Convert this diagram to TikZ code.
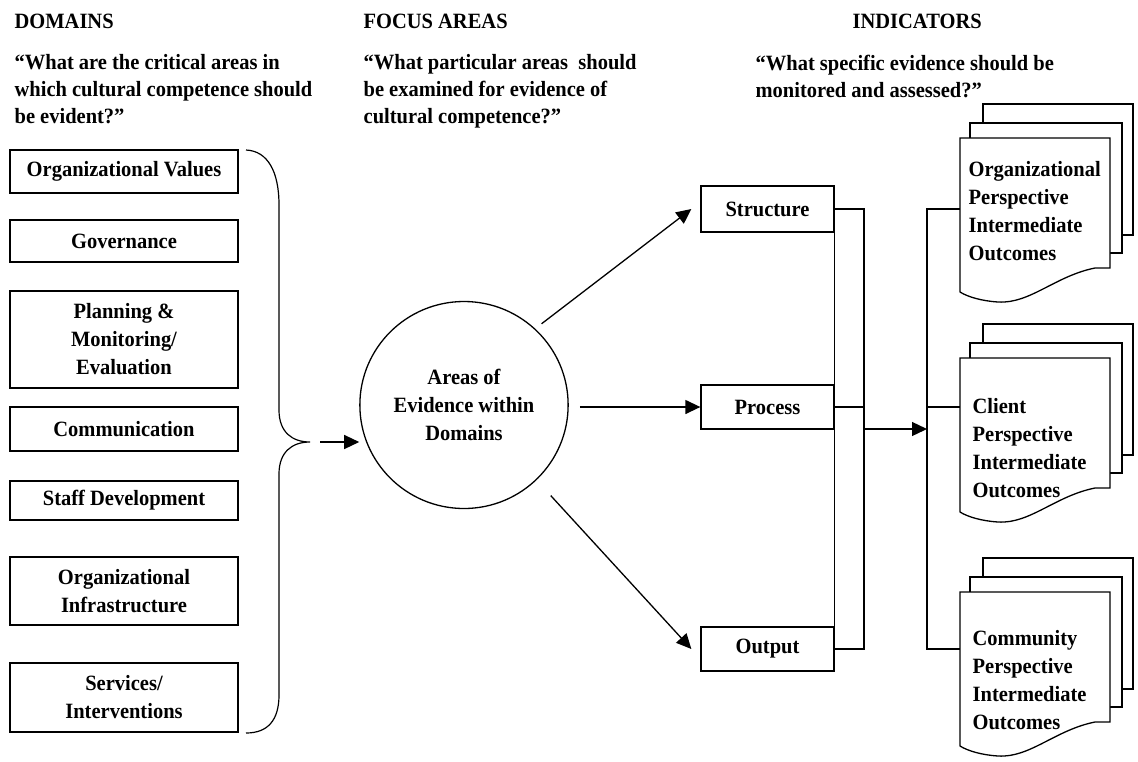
\documentclass[tikz,border=0pt]{standalone}
\usepackage{fontspec}
\setmainfont{Liberation Serif}[FakeStretch=0.94]
\usetikzlibrary{shapes.geometric,arrows.meta}

% stack of three pages behind a named front page
\newcommand\DocStack[1]{%
\draw[fill=white] ([shift={(23,-34)}]#1.north west) rectangle ([shift={(23,-33)}]#1.south east);%back
\draw[fill=white] ([shift={(10,-15)}]#1.north west) rectangle ([shift={(12,-15)}]#1.south east);%middle
\draw[fill=white] (#1.north west) -- (#1.north east) -- (#1.south east)
   -- ([shift={(-15,0)}]#1.south east)
   .. controls ([shift={(-55,8)}]#1.south east) and ([shift={(-80,36)}]#1.south east) .. ([shift={(-112,34)}]#1.south east)
   .. controls ([shift={(-128,33)}]#1.south east) and ([shift={(-142,29)}]#1.south east) .. ([shift={(-150,24)}]#1.south east)
   -- cycle;%front
}

\begin{document}
\begin{tikzpicture}[x=1pt,y=-1pt,line width=1.3pt,>={Triangle[length=15pt,width=14pt]},
  every node/.style={font=\fontsize{21.8}{28}\selectfont\bfseries},
  headtext/.style={anchor=base west,inner sep=0},
  questtext/.style={anchor=north west,align=left,inner sep=0,font=\fontsize{21.8}{27}\selectfont\bfseries},
  domainbox/.style={draw,minimum width=228,inner sep=0,align=center},
  focusbox/.style={draw,minimum width=133,inner sep=0},
  docpage/.style={anchor=north west,minimum width=150,minimum height=130,inner sep=0,outer sep=0},
  doctext/.style={anchor=west,align=left,inner sep=0}]
\useasboundingbox (0,0) rectangle (1138,761);
            % Headings
\node[headtext] (domhead) at (14 ,28) {DOMAINS};
\node[headtext] (fochead) at (363,28) {FOCUS AREAS};
\node[headtext] (indhead) at (852,28) {INDICATORS};
\node[questtext] (domq) at (14 ,54) {“What are the critical areas in\\which cultural competence should\\be evident?”};
\node[questtext] (focq) at (363,54) {“What particular areas~ should\\be examined for evidence of\\cultural competence?”};
\node[questtext] (indq) at (755,54) {“What specific evidence should be\\monitored and assessed?”};
            % Domains
\node[domainbox,minimum height=43] (values)   at (124,171.5) {Organizational Values};
\node[domainbox,minimum height=42] (govern)   at (124,241  ) {Governance};
\node[domainbox,minimum height=97] (planning) at (124,339.5) {Planning \&\\Monitoring/\\Evaluation};
\node[domainbox,minimum height=44] (comm)     at (124,429  ) {Communication};
\node[domainbox,minimum height=39] (staff)    at (124,500.5) {Staff Development};
\node[domainbox,minimum height=68] (infra)    at (124,591  ) {Organizational\\Infrastructure};
\node[domainbox,minimum height=69] (services) at (124,697.5) {Services/\\Interventions};
\coordinate (tip)   at (310,442);
\coordinate (brace) at (320,442);
\draw[line width=1.2pt] (246,150) .. controls (268,151) and (279,172) .. (279,205) -- (279,410)
   .. controls (279,432) and (292,442) .. (tip)
   .. controls (292,442) and (279,452) .. (279,474) -- (279,695)
   .. controls (279,720) and (268,733) .. (246,733);
            % Focus areas
\node[ellipse,draw,minimum width=186,minimum height=207,align=center] (areas) at (464,405) {Areas of\\Evidence within\\Domains};
\node[focusbox,minimum height=46] (struct)  at (767.5,209) {Structure};
\node[focusbox,minimum height=44] (process) at (767.5,407) {Process};
\node[focusbox,minimum height=44] (output)  at (767.5,649) {Output};
\draw[->] (brace) -- (brace -| areas.west);
\draw[->,shorten <=8pt]  (areas.47)  -- ([xshift=-9pt]struct.west);
\draw[->,shorten <=11pt] (areas.east |- process.west) -- (process.west);
\draw[->,shorten <=21pt] (areas.-46) -- ([xshift=-9pt]output.west);
            % Indicators
\node[docpage] (orgdoc)    at (960,138) {};
\node[docpage] (clientdoc) at (960,358) {};
\node[docpage] (commdoc)   at (960,592) {};
\DocStack{orgdoc}
\DocStack{clientdoc}
\DocStack{commdoc}
\node[doctext] (orgtxt)    at (968,211) {Organizational\\Perspective\\Intermediate\\Outcomes};
\node[doctext] (clienttxt) at (972,448) {Client\\Perspective\\Intermediate\\Outcomes};
\node[doctext] (commtxt)   at (972,680) {Community\\Perspective\\Intermediate\\Outcomes};
            % Brackets
\coordinate (busl) at (864,429);
\coordinate (busr) at (927,429);
\draw (struct.south east) -- (process.north east);
\draw (process.south east) -- (output.north east);
\draw (struct.east) -| (busl |- output.east) -- (output.east);
\draw (process.east) -- (process.east -| busl);
\draw[->] (busl) -- (busr);
\draw (struct.east -| orgdoc.west) -| (busr |- output.east) -- (output.east -| commdoc.west);
\draw (process.east -| busr) -- (process.east -| clientdoc.west);
\end{tikzpicture}
\end{document}
